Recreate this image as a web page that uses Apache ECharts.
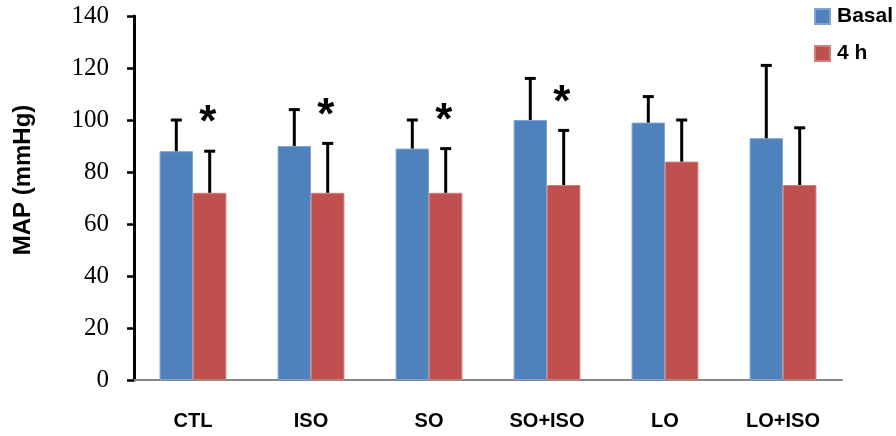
<!DOCTYPE html>
<html>
<head>
<meta charset="utf-8">
<script src="https://cdn.jsdelivr.net/npm/echarts@6/dist/echarts.min.js"></script>
<style>
html,body{margin:0;padding:0;background:#fff;}
#chart{width:896px;height:436px;}
</style>
</head>
<body>
<div id="chart"></div>
<script>
const categories = ['CTL', 'ISO', 'SO', 'SO+ISO', 'LO', 'LO+ISO'];
const basal = [88, 90, 89, 100, 99, 93];
const basalErr = [12, 14, 11, 16, 10, 28];
const h4 = [72, 72, 72, 75, 84, 75];
const h4Err = [16, 19, 17, 21, 16, 22];
const stars = ['*', '*', '*', '*', '', ''];
const yMin = 0, yMax = 140, yStep = 20;

const BW = 0.283;
const chart = echarts.init(document.getElementById('chart'));

function errSeries(name, vals, errs, side) {
  return {
    type: 'custom',
    name: name + ' err',
    z: 5,
    silent: true,
    data: vals.map((v, i) => [i, v, errs[i]]),
    renderItem: function (params, api) {
      const i = api.value(0), v = api.value(1), e = api.value(2);
      const band = api.size([1, 0])[0];
      const dx = side * band * BW / 2;
      const b = api.coord([i, v]);
      const t = api.coord([i, v + e]);
      const x = b[0] + dx;
      const cap = 5.5;
      const st = { stroke: '#000', lineWidth: 3 };
      return {
        type: 'group',
        children: [
          { type: 'line', shape: { x1: x, y1: b[1], x2: x, y2: t[1] }, style: st },
          { type: 'line', shape: { x1: x - cap, y1: t[1], x2: x + cap, y2: t[1] }, style: st }
        ]
      };
    }
  };
}

const option = {
  animation: false,
  backgroundColor: '#fff',
  grid: { left: 134, right: 54, top: 16, bottom: 56, containLabel: false, outerBoundsMode: 'none' },
  legend: {
    orient: 'vertical',
    left: 814,
    top: 6,
    padding: 0,
    itemWidth: 15,
    itemHeight: 15,
    itemGap: 16,
    icon: 'rect',
    data: ['Basal', '4 h'],
    textStyle: { fontFamily: 'Liberation Sans', fontWeight: 'bold', fontSize: 21, color: '#000', padding: [0, 0, 0, 2] }
  },
  xAxis: {
    type: 'category',
    data: categories,
    axisLine: { show: true, lineStyle: { color: '#868686', width: 2 } },
    axisTick: { show: false },
    axisLabel: { margin: 31, fontFamily: 'Liberation Sans', fontWeight: 'bold', fontSize: 20, color: '#000' }
  },
  yAxis: {
    type: 'value',
    min: yMin, max: yMax, interval: yStep,
    name: 'MAP (mmHg)',
    nameLocation: 'middle',
    nameGap: 99,
    nameRotate: 90,
    nameTextStyle: { fontFamily: 'Liberation Sans', fontWeight: 'bold', fontSize: 24, color: '#000', padding: [0, 0, 0, 36] },
    axisLine: { show: true, lineStyle: { color: '#000', width: 3 } },
    axisTick: { show: true, inside: false, length: 7, lineStyle: { color: '#000', width: 2.5 } },
    splitLine: { show: false },
    axisLabel: { margin: 25, fontFamily: 'Liberation Serif', fontSize: 25, color: '#000' }
  },
  series: [
    {
      name: 'Basal', type: 'bar', data: basal, barWidth: (BW * 100) + '%', barGap: '0%',
      itemStyle: { color: '#4F81BD', borderColor: '#7fa3cf', borderWidth: 1 }
    },
    {
      name: '4 h', type: 'bar', data: h4, barWidth: (BW * 100) + '%', barGap: '0%',
      itemStyle: { color: '#C0504D', borderColor: '#d07e7c', borderWidth: 1 }
    },
    errSeries('Basal', basal, basalErr, -1),
    errSeries('4 h', h4, h4Err, 1),
    {
      type: 'custom',
      name: 'stars',
      z: 6,
      silent: true,
      data: h4.map((v, i) => [i, v + h4Err[i], stars[i]]),
      renderItem: function (params, api) {
        const i = api.value(0), top = api.value(1);
        const s = stars[i];
        if (!s) return null;
        const band = api.size([1, 0])[0];
        const p = api.coord([i, top]);
        return {
          type: 'text',
          style: {
            x: p[0] + band * BW / 2 - 2,
            y: p[1] - 27,
            text: s,
            fill: '#000',
            font: 'bold 44px "Liberation Sans"',
            align: 'center',
            verticalAlign: 'middle'
          }
        };
      }
    }
  ]
};
chart.setOption(option);
</script>
</body>
</html>
